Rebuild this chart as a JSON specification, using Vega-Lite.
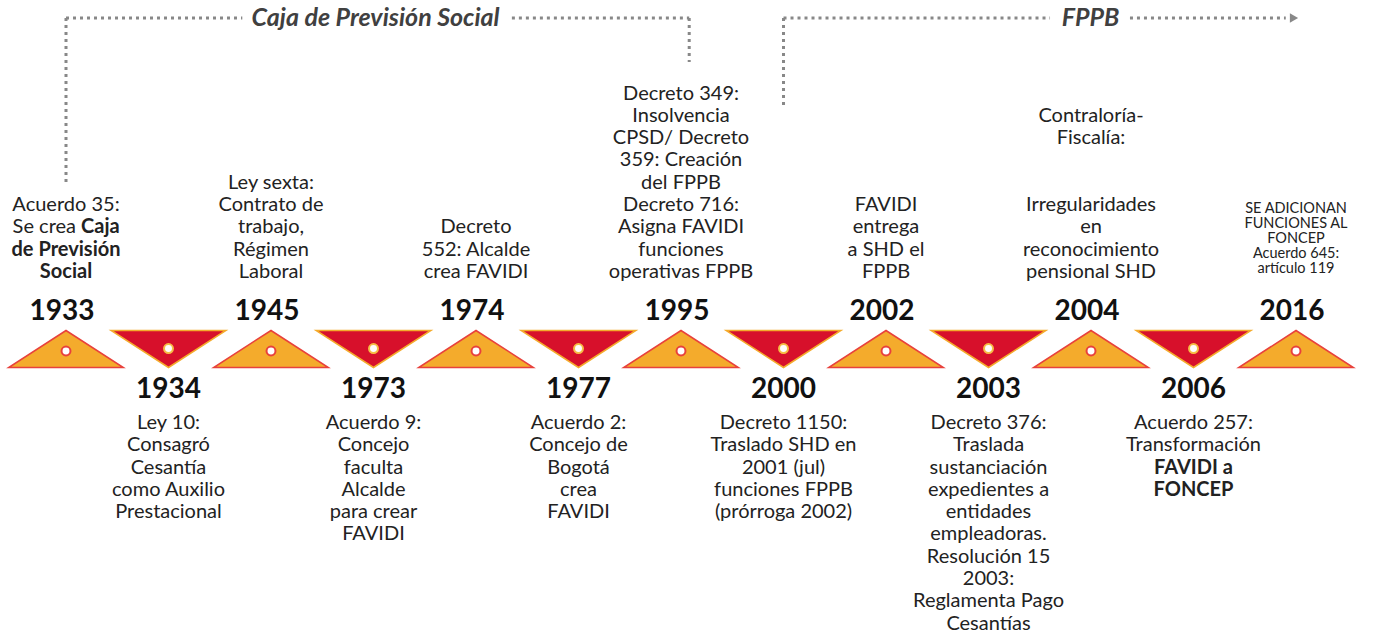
{
  "$schema": "https://vega.github.io/schema/vega-lite/v6.json",
  "width": 1373,
  "height": 636,
  "autosize": {"type": "fit", "contains": "padding"},
  "padding": 0,
  "background": "white",
  "config": {"view": {"stroke": null}, "text": {"font": "Lato", "color": "#222222"}},
  "datasets": {
    "events": [
      {"i": 0, "year": "1933", "side": "up"},
      {"i": 1, "year": "1934", "side": "down"},
      {"i": 2, "year": "1945", "side": "up"},
      {"i": 3, "year": "1973", "side": "down"},
      {"i": 4, "year": "1974", "side": "up"},
      {"i": 5, "year": "1977", "side": "down"},
      {"i": 6, "year": "1995", "side": "up"},
      {"i": 7, "year": "2000", "side": "down"},
      {"i": 8, "year": "2002", "side": "up"},
      {"i": 9, "year": "2003", "side": "down"},
      {"i": 10, "year": "2004", "side": "up"},
      {"i": 11, "year": "2006", "side": "down"},
      {"i": 12, "year": "2016", "side": "up"}
    ],
    "notes": [
      {"i": 0, "row": 4, "text": "Acuerdo 35:"},
      {"i": 0, "row": 3, "text": "Se crea", "part": "L"},
      {"i": 0, "row": 3, "text": "Caja", "part": "R"},
      {"i": 0, "row": 2, "text": "de Previsión", "bold": true},
      {"i": 0, "row": 1, "text": "Social", "bold": true},
      {"i": 2, "row": 5, "text": "Ley sexta:"},
      {"i": 2, "row": 4, "text": "Contrato de"},
      {"i": 2, "row": 3, "text": "trabajo,"},
      {"i": 2, "row": 2, "text": "Régimen"},
      {"i": 2, "row": 1, "text": "Laboral"},
      {"i": 4, "row": 3, "text": "Decreto"},
      {"i": 4, "row": 2, "text": "552: Alcalde"},
      {"i": 4, "row": 1, "text": "crea FAVIDI"},
      {"i": 6, "row": 9, "text": "Decreto 349:"},
      {"i": 6, "row": 8, "text": "Insolvencia"},
      {"i": 6, "row": 7, "text": "CPSD/ Decreto"},
      {"i": 6, "row": 6, "text": "359: Creación"},
      {"i": 6, "row": 5, "text": "del FPPB"},
      {"i": 6, "row": 4, "text": "Decreto 716:"},
      {"i": 6, "row": 3, "text": "Asigna FAVIDI"},
      {"i": 6, "row": 2, "text": "funciones"},
      {"i": 6, "row": 1, "text": "operativas FPPB"},
      {"i": 8, "row": 4, "text": "FAVIDI"},
      {"i": 8, "row": 3, "text": "entrega"},
      {"i": 8, "row": 2, "text": "a SHD el"},
      {"i": 8, "row": 1, "text": "FPPB"},
      {"i": 10, "row": 8, "text": "Contraloría-"},
      {"i": 10, "row": 7, "text": "Fiscalía:"},
      {"i": 10, "row": 4, "text": "Irregularidades"},
      {"i": 10, "row": 3, "text": "en"},
      {"i": 10, "row": 2, "text": "reconocimiento"},
      {"i": 10, "row": 1, "text": "pensional SHD"},
      {"i": 1, "row": -1, "text": "Ley 10:"},
      {"i": 1, "row": -2, "text": "Consagró"},
      {"i": 1, "row": -3, "text": "Cesantía"},
      {"i": 1, "row": -4, "text": "como Auxilio"},
      {"i": 1, "row": -5, "text": "Prestacional"},
      {"i": 3, "row": -1, "text": "Acuerdo 9:"},
      {"i": 3, "row": -2, "text": "Concejo"},
      {"i": 3, "row": -3, "text": "faculta"},
      {"i": 3, "row": -4, "text": "Alcalde"},
      {"i": 3, "row": -5, "text": "para crear"},
      {"i": 3, "row": -6, "text": "FAVIDI"},
      {"i": 5, "row": -1, "text": "Acuerdo 2:"},
      {"i": 5, "row": -2, "text": "Concejo de"},
      {"i": 5, "row": -3, "text": "Bogotá"},
      {"i": 5, "row": -4, "text": "crea"},
      {"i": 5, "row": -5, "text": "FAVIDI"},
      {"i": 7, "row": -1, "text": "Decreto 1150:"},
      {"i": 7, "row": -2, "text": "Traslado SHD en"},
      {"i": 7, "row": -3, "text": "2001 (jul)"},
      {"i": 7, "row": -4, "text": "funciones FPPB"},
      {"i": 7, "row": -5, "text": "(prórroga 2002)"},
      {"i": 9, "row": -1, "text": "Decreto 376:"},
      {"i": 9, "row": -2, "text": "Traslada"},
      {"i": 9, "row": -3, "text": "sustanciación"},
      {"i": 9, "row": -4, "text": "expedientes a"},
      {"i": 9, "row": -5, "text": "entidades"},
      {"i": 9, "row": -6, "text": "empleadoras."},
      {"i": 9, "row": -7, "text": "Resolución 15"},
      {"i": 9, "row": -8, "text": "2003:"},
      {"i": 9, "row": -9, "text": "Reglamenta Pago"},
      {"i": 9, "row": -10, "text": "Cesantías"},
      {"i": 11, "row": -1, "text": "Acuerdo 257:"},
      {"i": 11, "row": -2, "text": "Transformación"},
      {"i": 11, "row": -3, "text": "FAVIDI a", "bold": true},
      {"i": 11, "row": -4, "text": "FONCEP", "bold": true}
    ],
    "smallNote": [
      {"i": 12, "lines": ["SE ADICIONAN", "FUNCIONES AL", "FONCEP", "Acuerdo 645:", "artículo 119"]}
    ],
    "brackets": [
      {"period": "Caja de Previsión Social", "i": 0, "i2": 0, "y": 14.84, "y2": 7.35},
      {"period": "Caja de Previsión Social", "i": 0, "i2": 1.72, "y": 14.84, "y2": 14.84},
      {"period": "Caja de Previsión Social", "i": 4.35, "i2": 6.08, "y": 14.84, "y2": 14.84},
      {"period": "Caja de Previsión Social", "i": 6.08, "i2": 6.08, "y": 14.84, "y2": 12.87},
      {"period": "FPPB", "i": 7, "i2": 7, "y": 14.84, "y2": 10.94},
      {"period": "FPPB", "i": 7, "i2": 9.6, "y": 14.84, "y2": 14.84},
      {"period": "FPPB", "i": 10.38, "i2": 11.9, "y": 14.84, "y2": 14.84}
    ],
    "periods": [
      {"period": "Caja de Previsión Social", "i": 3.02, "y": 14.84},
      {"period": "FPPB", "i": 9.995, "y": 14.84}
    ],
    "arrows": [
      {"period": "FPPB", "i": 11.98, "y": 14.84}
    ]
  },
  "layer": [
    {
      "data": {"name": "brackets"},
      "mark": {"type": "rule", "color": "#888888", "strokeWidth": 3, "strokeDash": [3, 4]},
      "encoding": {
        "x": {"field": "i", "type": "quantitative", "scale": {"domain": [-0.6439, 12.751], "nice": false, "zero": false}, "axis": null},
        "x2": {"field": "i2"},
        "y": {"field": "y", "type": "quantitative", "scale": {"domain": [-12.87, 15.65], "nice": false, "zero": false}, "axis": null},
        "y2": {"field": "y2"}
      }
    },
    {
      "data": {"name": "arrows"},
      "mark": {"type": "point", "shape": "triangle-right", "filled": true, "color": "#888888", "size": 90, "opacity": 1},
      "encoding": {
        "x": {"field": "i", "type": "quantitative", "axis": null},
        "y": {"field": "y", "type": "quantitative", "axis": null}
      }
    },
    {
      "data": {"name": "periods"},
      "mark": {"type": "text", "fontSize": 25, "fontWeight": "bold", "fontStyle": "italic", "color": "#404040", "baseline": "middle", "align": "center"},
      "encoding": {
        "x": {"field": "i", "type": "quantitative", "axis": null},
        "y": {"field": "y", "type": "quantitative", "axis": null},
        "text": {"field": "period"}
      }
    },
    {
      "data": {"name": "events"},
      "transform": [{"filter": "datum.side === 'up'"}],
      "mark": {"type": "point", "shape": "M-1.55,0.5L1.55,0.5L0,-0.5Z", "filled": true, "fill": "#F4AB2C", "stroke": "#E8413C", "strokeWidth": 1.5, "size": 5476, "opacity": 1},
      "encoding": {
        "x": {"field": "i", "type": "quantitative", "axis": null},
        "y": {"datum": 0, "type": "quantitative", "axis": null}
      }
    },
    {
      "data": {"name": "events"},
      "transform": [{"filter": "datum.side === 'down'"}],
      "mark": {"type": "point", "shape": "M-1.55,-0.5L1.55,-0.5L0,0.5Z", "filled": true, "fill": "#D7102B", "stroke": "#F4AB2C", "strokeWidth": 1.5, "size": 5476, "opacity": 1},
      "encoding": {
        "x": {"field": "i", "type": "quantitative", "axis": null},
        "y": {"datum": 0, "type": "quantitative", "axis": null}
      }
    },
    {
      "data": {"name": "events"},
      "transform": [{"filter": "datum.side === 'up'"}],
      "mark": {"type": "point", "shape": "circle", "filled": true, "fill": "white", "stroke": "#E8413C", "strokeWidth": 2, "size": 80, "opacity": 1},
      "encoding": {
        "x": {"field": "i", "type": "quantitative", "axis": null},
        "y": {"datum": -0.09, "type": "quantitative", "axis": null}
      }
    },
    {
      "data": {"name": "events"},
      "transform": [{"filter": "datum.side === 'down'"}],
      "mark": {"type": "point", "shape": "circle", "filled": true, "fill": "white", "stroke": "#F6BE45", "strokeWidth": 2, "size": 80, "opacity": 1},
      "encoding": {
        "x": {"field": "i", "type": "quantitative", "axis": null},
        "y": {"datum": 0.02, "type": "quantitative", "axis": null}
      }
    },
    {
      "data": {"name": "events"},
      "transform": [{"filter": "datum.side === 'up'"}],
      "mark": {"type": "text", "fontSize": 28, "fontWeight": "bold", "color": "#111111", "baseline": "middle", "align": "center", "dx": -4},
      "encoding": {
        "x": {"field": "i", "type": "quantitative", "axis": null},
        "y": {"datum": 1.68, "type": "quantitative", "axis": null},
        "text": {"field": "year"}
      }
    },
    {
      "data": {"name": "events"},
      "transform": [{"filter": "datum.side === 'down'"}],
      "mark": {"type": "text", "fontSize": 28, "fontWeight": "bold", "color": "#111111", "baseline": "middle", "align": "center"},
      "encoding": {
        "x": {"field": "i", "type": "quantitative", "axis": null},
        "y": {"datum": -1.86, "type": "quantitative", "axis": null},
        "text": {"field": "year"}
      }
    },
    {
      "data": {"name": "notes"},
      "transform": [{"filter": "datum.row > 0 && !datum.bold && !datum.part"}],
      "mark": {"type": "text", "fontSize": 20, "baseline": "middle", "align": "center", "dy": -54.7},
      "encoding": {
        "x": {"field": "i", "type": "quantitative", "axis": null},
        "y": {"field": "row", "type": "quantitative", "axis": null},
        "text": {"field": "text"}
      }
    },
    {
      "data": {"name": "notes"},
      "transform": [{"filter": "datum.row > 0 && datum.bold"}],
      "mark": {"type": "text", "fontSize": 20, "fontWeight": "bold", "baseline": "middle", "align": "center", "dy": -54.7},
      "encoding": {
        "x": {"field": "i", "type": "quantitative", "axis": null},
        "y": {"field": "row", "type": "quantitative", "axis": null},
        "text": {"field": "text"}
      }
    },
    {
      "data": {"name": "notes"},
      "transform": [{"filter": "datum.part === 'L'"}],
      "mark": {"type": "text", "fontSize": 20, "baseline": "middle", "align": "right", "dy": -54.7, "dx": 10},
      "encoding": {
        "x": {"field": "i", "type": "quantitative", "axis": null},
        "y": {"field": "row", "type": "quantitative", "axis": null},
        "text": {"field": "text"}
      }
    },
    {
      "data": {"name": "notes"},
      "transform": [{"filter": "datum.part === 'R'"}],
      "mark": {"type": "text", "fontSize": 20, "fontWeight": "bold", "baseline": "middle", "align": "left", "dy": -54.7, "dx": 15},
      "encoding": {
        "x": {"field": "i", "type": "quantitative", "axis": null},
        "y": {"field": "row", "type": "quantitative", "axis": null},
        "text": {"field": "text"}
      }
    },
    {
      "data": {"name": "notes"},
      "transform": [{"filter": "datum.row < 0 && !datum.bold"}],
      "mark": {"type": "text", "fontSize": 20, "baseline": "middle", "align": "center", "dy": 51.7},
      "encoding": {
        "x": {"field": "i", "type": "quantitative", "axis": null},
        "y": {"field": "row", "type": "quantitative", "axis": null},
        "text": {"field": "text"}
      }
    },
    {
      "data": {"name": "notes"},
      "transform": [{"filter": "datum.row < 0 && datum.bold"}],
      "mark": {"type": "text", "fontSize": 20, "fontWeight": "bold", "baseline": "middle", "align": "center", "dy": 51.7},
      "encoding": {
        "x": {"field": "i", "type": "quantitative", "axis": null},
        "y": {"field": "row", "type": "quantitative", "axis": null},
        "text": {"field": "text"}
      }
    },
    {
      "data": {"name": "smallNote"},
      "mark": {"type": "text", "fontSize": 14.5, "lineHeight": 15, "baseline": "middle", "align": "center"},
      "encoding": {
        "x": {"field": "i", "type": "quantitative", "axis": null},
        "y": {"datum": 6.3, "type": "quantitative", "axis": null},
        "text": {"field": "lines"}
      }
    }
  ]
}
